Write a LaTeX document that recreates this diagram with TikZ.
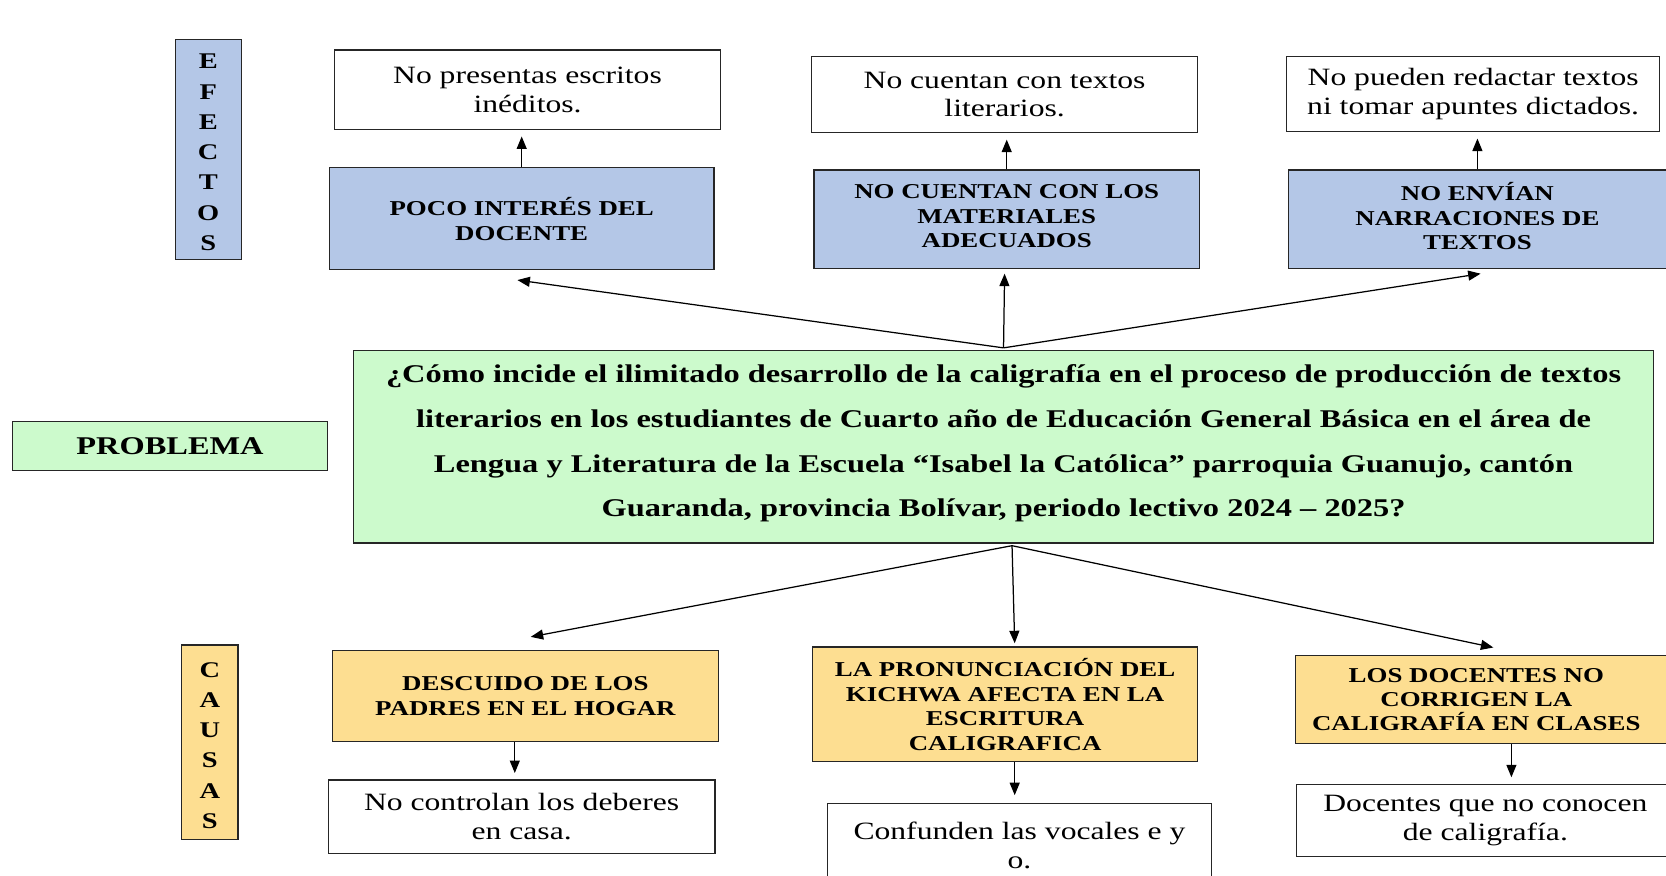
\documentclass[tikz,border=0pt]{standalone}
\usepackage{fontspec}
\setmainfont{Liberation Serif}[FakeStretch=1.27]
\usetikzlibrary{arrows.meta,fit,calc}
\definecolor{efblue}{RGB}{180,199,231}
\definecolor{cayel}{RGB}{253,222,145}
\definecolor{prgreen}{RGB}{204,250,204}
\tikzset{
  frame/.style={draw=black!85, line width=1pt, inner sep=0pt},
  wbox/.style={frame, fill=white},
  bbox/.style={frame, fill=efblue},
  ybox/.style={frame, fill=cayel},
  gbox/.style={frame, fill=prgreen},
  txt/.style={inner sep=0pt, align=center},
  wtxt/.style={txt, font=\fontsize{20pt}{23pt}\selectfont},
  ctxt/.style={txt, font=\bfseries\fontsize{17pt}{19.6pt}\selectfont},
  ptxt/.style={txt, font=\bfseries\fontsize{20.5pt}{35.85pt}\selectfont},
  stxt/.style={txt, font=\bfseries\fontsize{18pt}{24.3pt}\selectfont},
  arr/.style={draw=black, line width=1pt, -{Triangle[length=10pt,width=8pt]}},
}
\begin{document}
\begin{tikzpicture}[x=0.03cm,y=-0.03cm]
\useasboundingbox (0,0) rectangle (1568,824);
\clip (0,0) rectangle (1568,824);
\fill[white] (0,0) rectangle (1568,824);

% side labels
\node[frame, fill=efblue, fit={(165,37) (227,244)}] (ef) {};
\node[stxt] (eft) at ($(ef)+(0,3)$) {E\\F\\E\\C\\T\\O\\S};
\node[frame, fill=cayel, fit={(171,607) (224,790)}] (ca) {};
\node[stxt] (cat) at ($(ca)+(0,3)$) {C\\A\\U\\S\\A\\S};
\node[gbox, fit={(12,397) (308,443)}] (pl) {};
\node[ptxt] (plt) at (pl) {PROBLEMA};

% effects
\node[wbox, fit={(315,47) (678,122)}] (w1) {};
\node[wtxt] (w1t) at (w1) {No presentas escritos\\inéditos.};
\node[wbox, fit={(764,53) (1127,125)}] (w2) {};
\node[wtxt] (w2t) at (w2) {No cuentan con textos\\literarios.};
\node[wbox, fit={(1211,53) (1562,124)}] (w3) {};
\node[wtxt] (w3t) at (w3) {No pueden redactar textos\\ni tomar apuntes dictados.};
\node[bbox, fit={(310,158) (672,254)}] (b1) {};
\node[ctxt] (b1t) at (b1) {POCO INTERÉS DEL\\DOCENTE};
\node[bbox, fit={(766,160) (1129,253)}] (b2) {};
\node[ctxt] (b2t) at ($(b2)+(0,-3)$) {NO CUENTAN CON LOS\\MATERIALES\\ADECUADOS};
\node[bbox, fit={(1213,160) (1572,253)}] (b3) {};
\node[ctxt] (b3t) at ($(b3)+(-2,-3)$) {NO ENVÍAN\\NARRACIONES DE\\TEXTOS};

% problem
\node[gbox, fit={(333,330) (1556,511)}] (p) {};
\node[ptxt] (pt) at ($(p)+(0,-3)$) {¿Cómo incide el ilimitado desarrollo de la caligrafía en el proceso de producción de textos\\literarios en los estudiantes de Cuarto año de Educación General Básica en el área de\\Lengua y Literatura de la Escuela “Isabel la Católica” parroquia Guanujo, cantón\\Guaranda, provincia Bolívar, periodo lectivo 2024 – 2025?};

% causes
\node[ybox, fit={(313,612) (676,698)}] (c1) {};
\node[ctxt] (c1t) at (c1) {DESCUIDO DE LOS\\PADRES EN EL HOGAR};
\node[ybox, fit={(765,609) (1127,717)}] (c2) {};
\node[ctxt] (c2t) at (c2) {LA PRONUNCIACIÓN DEL\\KICHWA AFECTA EN LA\\ESCRITURA\\CALIGRAFICA};
\node[ybox, fit={(1219,617) (1572,700)}] (c3) {};
\node[ctxt] (c3t) at ($(c3)+(-6,0)$) {LOS DOCENTES NO\\CORRIGEN LA\\CALIGRAFÍA EN CLASES};
\node[wbox, fit={(309,734) (673,803)}] (d1) {};
\node[wtxt] (d1t) at (d1) {No controlan los deberes\\en casa.};
\node[wbox, fit={(779,756) (1140,835)}] (d2) {};
\node[wtxt] (d2t) at (d2) {Confunden las vocales e y\\o.};
\node[wbox, fit={(1220,738) (1572,806)}] (d3) {};
\node[wtxt] (d3t) at ($(d3)+(2,0)$) {Docentes que no conocen\\de caligrafía.};

% connectors: effects
\draw[arr, shorten >=5pt] (b1.north) -- (b1.north |- w1.south);
\draw[arr, shorten >=5pt] (b2.north) -- (b2.north |- w2.south);
\coordinate (b3a) at ($(b3.north)+(-2,0)$);
\draw[arr, shorten >=5pt] (b3a) -- (b3a |- w3.south);
\coordinate (ptop) at ($(p.north)+(0,-2)$);
\draw[arr] (ptop) -- ($(b1.south)+(-4,9)$);
\draw[arr] (ptop) -- ($(b2.south)+(-2,4)$);
\draw[arr] (ptop) -- ($(b3.south)+(1,4)$);

% connectors: causes
\coordinate (pbot) at ($(p.south)+(8,2)$);
\draw[arr] (pbot) -- ($(c1.north)+(5,-12)$);
\draw[arr] (pbot) -- ($(c2.north)+(9,-3)$);
\draw[arr] (pbot) -- ($(c3.north)+(10,-7)$);
\coordinate (c1a) at ($(c1.south)+(-10,0)$);
\coordinate (c2a) at ($(c2.south)+(9,0)$);
\coordinate (c3a) at ($(c3.south)+(27,0)$);
\draw[arr, shorten >=5pt] (c1a) -- (c1a |- d1.north);
\draw[arr, shorten >=6pt] (c2a) -- (c2a |- d2.north);
\draw[arr, shorten >=5pt] (c3a) -- (c3a |- d3.north);
\end{tikzpicture}
\end{document}
